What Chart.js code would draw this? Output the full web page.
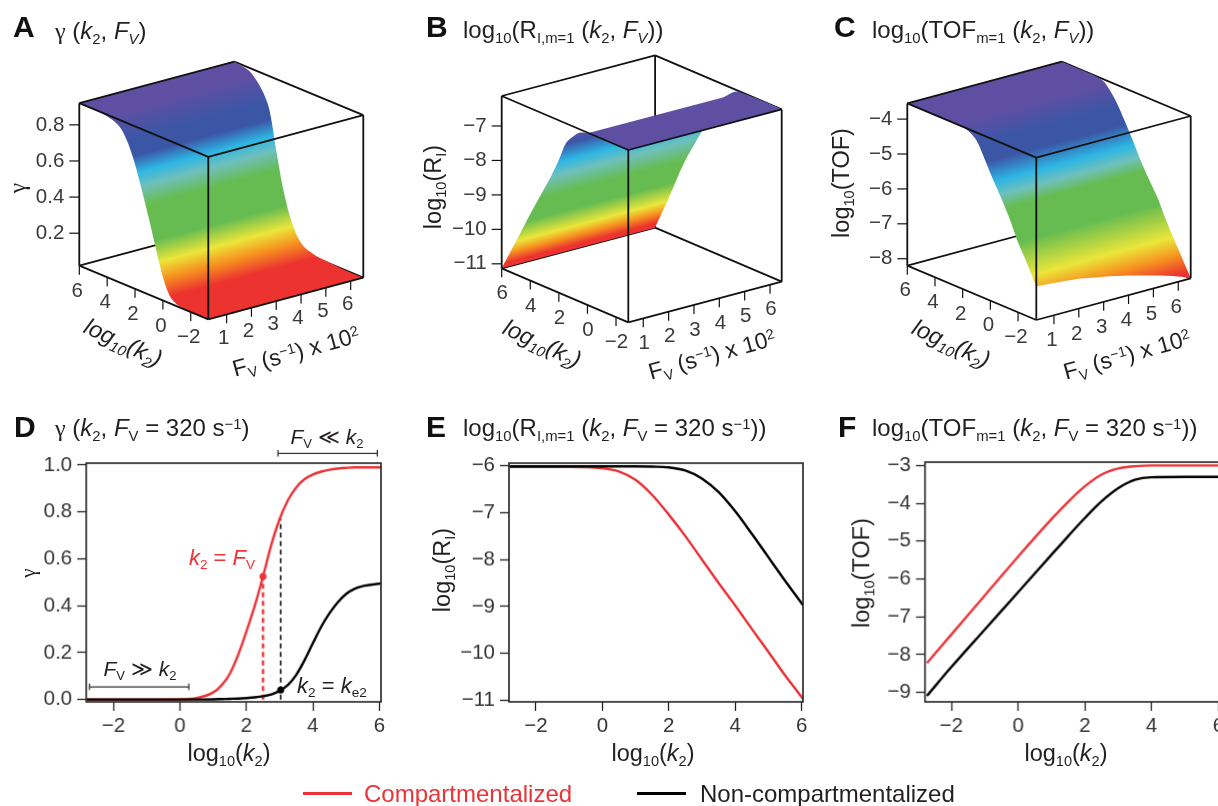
<!DOCTYPE html>
<html>
<head>
<meta charset="utf-8">
<script src="https://cdn.jsdelivr.net/npm/chart.js@4"></script>
<style>
html, body { margin: 0; padding: 0; background: #fff; overflow: hidden; }
#fig { position: relative; width: 1218px; height: 806px; overflow: hidden; font-family: "Liberation Sans", Arial, sans-serif; color: #231f20; filter: blur(0.4px); }
#fig canvas { position: absolute; }
.lbl { position: absolute; white-space: nowrap; line-height: 1; }
.lbl sub, .lbl sup { font-size: .62em; line-height: 0; vertical-align: baseline; position: relative; }
.lbl sub { top: .32em; }
.lbl sup { top: -.48em; }
.lbl .gam { font-family: "Liberation Serif", serif; }
.letter { font-weight: bold; font-size: 30px; color: #111; }
.key { position: absolute; height: 3px; top: 792px; width: 49px; }
</style>
</head>
<body>
<div id="fig"></div>
<script>
var RED = '#ec3237';
var INK = '#111111';

var kD = [-2.8, -2, -1, 0, 0.5, 1, 1.25, 1.5, 1.75, 2, 2.25, 2.5, 2.75, 3, 3.25, 3.5, 3.75, 4, 4.25, 4.5, 4.75, 5, 5.25, 5.5, 6.05];
var gammaRed = [0, 0, 0, 0.001, 0.006, 0.03, 0.06, 0.11, 0.19, 0.29, 0.40, 0.525, 0.66, 0.77, 0.85, 0.905, 0.94, 0.96, 0.972, 0.98, 0.985, 0.988, 0.99, 0.99, 0.99];
var gammaBlack = [0, 0, 0, 0, 0, 0.001, 0.002, 0.003, 0.004, 0.006, 0.009, 0.014, 0.022, 0.037, 0.062, 0.105, 0.168, 0.24, 0.31, 0.368, 0.415, 0.45, 0.472, 0.484, 0.495];

var kE = [-2.8, -1, 0, 0.5, 1, 1.5, 2, 2.5, 3, 3.5, 4, 4.5, 5, 5.5, 6.05];
var riRed = [-6.02, -6.02, -6.05, -6.12, -6.3, -6.62, -7.04, -7.5, -8, -8.5, -8.98, -9.48, -9.97, -10.47, -10.98];
var riBlack = [-6.01, -6.01, -6.01, -6.01, -6.01, -6.015, -6.03, -6.1, -6.27, -6.56, -6.97, -7.45, -7.95, -8.45, -8.98];

var kF = [-2.73, -2, -1, 0, 1, 1.5, 2, 2.5, 3, 3.5, 4, 5, 6.1];
var tofRed = [-8.22, -7.47, -6.44, -5.41, -4.42, -3.96, -3.55, -3.24, -3.08, -3.02, -3, -3, -3];
var tofBlack = [-9.09, -8.33, -7.34, -6.35, -5.36, -4.87, -4.39, -3.95, -3.6, -3.38, -3.31, -3.3, -3.3];

var kTicks2d = [-2, 0, 2, 4, 6];
var gammaTicks = [0, 0.2, 0.4, 0.6, 0.8, 1];
var riTicks = [-11, -10, -9, -8, -7, -6];
var tofTicks = [-9, -8, -7, -6, -5, -4, -3];

// ---- surfaces: z along the two Fv-end rows of the box and along the near k edge
var fvTicks = [1, 2, 3, 4, 5, 6];
var kTicks3d = [-2, 0, 2, 4, 6];

var surfKA = [6, 5, 4.5, 4, 3.5, 3, 2.5, 2, 1.5, 1, 0.5, 0, -0.5, -1, -2, -3.26];
var surfLowA = [0.92, 0.92, 0.918, 0.912, 0.9, 0.875, 0.81, 0.71, 0.58, 0.44, 0.29, 0.15, 0.06, 0.03, 0.022, 0.02];
var surfHighA = [0.92, 0.905, 0.875, 0.825, 0.74, 0.53, 0.33, 0.19, 0.10, 0.055, 0.04, 0.03, 0.028, 0.025, 0.02, 0.02];
var surfFvA = [0.26, 6.51];
var surfNearA = [0.02, 0.02];
var zTicksA = [0.2, 0.4, 0.6, 0.8];

var surfKB = [6, 5, 4, 3, 2.5, 2, 1.5, 1, 0.5, 0, -1, -2.86];
var surfLowB = [-11.13, -10.17, -9.2, -8.27, -7.8, -7.28, -6.7, -6.42, -6.22, -6.15, -6.13, -6.13];
var surfHighB = [-11.13, -10.05, -8.92, -8, -7.55, -7.1, -6.65, -6.42, -6.22, -6.15, -6.13, -6.13];
var surfFvB = [0.41, 6.46];
var surfNearB = [-6.13, -6.13];
var zTicksB = [-11, -10, -9, -8, -7];

var surfKC = [6, 4, 3, 2.5, 2, 1.5, 1, 0.5, 0, -0.5, -1, -1.5, -2, -2.5, -3.32];
var surfLowC = [-3.55, -3.55, -3.55, -3.55, -3.55, -3.62, -3.78, -4.14, -4.55, -4.92, -5.3, -5.72, -6.2, -6.57, -7.24];
var surfHighC = [-3.55, -3.55, -3.6, -3.8, -4.08, -4.45, -4.84, -5.26, -5.65, -6, -6.35, -6.8, -7.2, -7.57, -8.2];
var surfFvC = [0.29, 1, 2, 3, 4, 5, 6, 6.5];
var surfNearC = [-7.24, -7.28, -7.35, -7.48, -7.64, -7.83, -8.05, -8.2];
var zTicksC = [-8, -7, -6, -5, -4];

var PURPLE = '#5f4fa3', BLUE = '#3c56a6', CYAN = '#2db6e4', TEAL = '#6fc0bb', GREEN = '#66bc50', YELLOW = '#ebe63a', ORANGE = '#f6931f', SURF_RED = '#ec3330';

var fig = document.getElementById('fig');

function addCanvas(left, top, w, h) {
    var c = document.createElement('canvas');
    c.width = w;
    c.height = h;
    c.style.left = left + 'px';
    c.style.top = top + 'px';
    c.style.width = w + 'px';
    c.style.height = h + 'px';
    fig.appendChild(c);
    return c;
}

function addLabel(x, y, html, opts) {
    opts = opts || {};
    var d = document.createElement('div');
    d.className = 'lbl ' + (opts.cls || '');
    d.innerHTML = html;
    d.style.left = x + 'px';
    d.style.top = y + 'px';
    if (opts.size) d.style.fontSize = opts.size + 'px';
    if (opts.color) d.style.color = opts.color;
    var tx = opts.left ? '0' : '-50%';
    d.style.transform = 'translate(' + tx + ',-50%) rotate(' + (opts.rot || 0) + 'deg)';
    fig.appendChild(d);
}

function zip(xs, ys) {
    return xs.map(function(x, i) { return { x: x, y: ys[i] }; });
}

function minusText(v) {
    return String(v).replace('-', '\u2212');
}

// ---- 3D box panels
function boxPanel(offsetX, box, surf, stops) {
    var W = 400, H = 395;
    var canvas = addCanvas(offsetX, 0, W, H);
    var kMin = box.k[0], kMax = box.k[1], fMin = box.f[0], fMax = box.f[1], zMin = box.z[0], zMax = box.z[1];
    var kv = [(box.left[0] - box.front[0]) / (kMax - kMin), (box.left[1] - box.front[1]) / (kMax - kMin)];
    var fv = [(box.right[0] - box.front[0]) / (fMax - fMin), (box.right[1] - box.front[1]) / (fMax - fMin)];
    var zv = -box.height / (zMax - zMin);

    function project(k, f, z) {
        return {
            x: box.front[0] + (k - kMin) * kv[0] + (f - fMin) * fv[0],
            y: box.front[1] + (k - kMin) * kv[1] + (f - fMin) * fv[1] + (z - zMin) * zv
        };
    }

    function edge(a, b, order, width) {
        return {
            data: [project(a[0], a[1], a[2]), project(b[0], b[1], b[2])],
            borderColor: INK, borderWidth: width || 1.8, pointRadius: 0, fill: false, order: order
        };
    }

    // colour runs across the Fv direction, so the gradient axis is normal to it
    var len = Math.sqrt(fv[0] * fv[0] + fv[1] * fv[1]);
    var nx = -fv[1] / len, ny = fv[0] / len;
    var span = box.gradBottom - box.gradTop;
    var g = canvas.getContext('2d').createLinearGradient(
        box.front[0], box.gradTop,
        box.front[0] + nx * span * ny, box.gradTop + ny * span * ny);
    stops.forEach(function(s) { g.addColorStop(s[0], s[1]); });

    function sheet(from) {
        var pts = [], i;
        for (i = from; i < surf.k.length; i++) pts.push(project(surf.k[i], fMin, surf.low[i]));
        for (i = 0; i < surf.fv.length; i++) pts.push(project(kMin, surf.fv[i], surf.near[i]));
        for (i = surf.k.length - 1; i >= from; i--) pts.push(project(surf.k[i], fMax, surf.high[i]));
        return pts;
    }

    var ds = [];
    // far edges sit behind the surface
    ds.push(edge([kMax, fMin, zMin], [kMax, fMax, zMin], 5));
    ds.push(edge([kMax, fMax, zMin], [kMin, fMax, zMin], 5));
    ds.push(edge([kMax, fMax, zMin], [kMax, fMax, zMax], 5));
    ds.push(edge([kMax, fMax, zMax], [kMin, fMax, zMax], 5));
    ds.push({ data: sheet(0), borderWidth: 0, backgroundColor: g, fill: 'shape', pointRadius: 0, tension: 0.3, order: 4 });
    if (surf.bandFrom) {
        ds.push({ data: sheet(surf.bandFrom), borderWidth: 0, backgroundColor: PURPLE, fill: 'shape', pointRadius: 0, order: 3 });
    }
    // near edges
    ds.push(edge([kMax, fMin, zMax], [kMax, fMax, zMax], 1));
    ds.push(edge([kMax, fMin, zMax], [kMin, fMin, zMax], 1));
    ds.push(edge([kMin, fMin, zMax], [kMin, fMax, zMax], 1));
    ds.push(edge([kMin, fMax, zMax], [kMin, fMax, zMin], 1));
    ds.push(edge([kMax, fMin, zMax], [kMax, fMin, zMin], 1));
    ds.push(edge([kMin, fMin, zMax], [kMin, fMin, zMin], 1));
    ds.push(edge([kMax, fMin, zMin], [kMin, fMin, zMin], 1));
    ds.push(edge([kMin, fMin, zMin], [kMin, fMax, zMin], 1));

    var texts = [];
    surf.zTicks.forEach(function(v) {
        var p = project(kMax, fMin, v);
        ds.push({ data: [p, { x: p.x - 10, y: p.y }], borderColor: INK, borderWidth: 1.2, pointRadius: 0, order: 1 });
        texts.push({ t: minusText(v.toFixed(box.zDigits)), x: p.x - 15, y: p.y, align: 'right' });
    });
    kTicks3d.forEach(function(v) {
        var p = project(v, fMin, zMin);
        ds.push({ data: [p, { x: p.x, y: p.y + 9 }], borderColor: INK, borderWidth: 1.2, pointRadius: 0, order: 1 });
        texts.push({ t: minusText(v), x: p.x + box.kLabel[0], y: p.y + box.kLabel[1], align: 'center' });
    });
    fvTicks.forEach(function(v) {
        var p = project(kMin, v, zMin);
        ds.push({ data: [p, { x: p.x, y: p.y + 9 }], borderColor: INK, borderWidth: 1.2, pointRadius: 0, order: 1 });
        texts.push({ t: String(v), x: p.x + box.fLabel[0], y: p.y + box.fLabel[1], align: 'center' });
    });

    new Chart(canvas, {
        type: 'line',
        data: { datasets: ds },
        plugins: [{
            id: 'boxTicks',
            afterDraw: function(chart) {
                var ctx = chart.ctx;
                ctx.save();
                ctx.fillStyle = '#3a3a3c';
                ctx.font = '20.5px "Liberation Sans"';
                ctx.textBaseline = 'middle';
                texts.forEach(function(t) {
                    ctx.textAlign = t.align;
                    ctx.fillText(t.t, t.x, t.y);
                });
                ctx.restore();
            }
        }],
        options: {
            responsive: false,
            animation: false,
            parsing: false,
            layout: { padding: 0 },
            plugins: { legend: { display: false }, tooltip: { enabled: false } },
            scales: {
                x: { type: 'linear', display: false, min: 0, max: W },
                y: { type: 'linear', display: false, min: 0, max: H, reverse: true }
            }
        }
    });
}

// ---- 2D line panels
function linePanel(area, xRange, yRange, yTicks, yDigits, datasets) {
    var padTop = 20, padRight = 20;
    var left = area.offsetX;
    var top = area.top - padTop;
    var w = area.right - left + padRight;
    var bottomRoom = 50;
    var h = area.bottom - top + bottomRoom;
    var canvas = addCanvas(left, top, w, h);

    var frame = {
        id: 'frame',
        afterDatasetsDraw: function(chart) {
            var a = chart.chartArea, ctx = chart.ctx;
            ctx.save();
            ctx.strokeStyle = '#222';
            ctx.lineWidth = 1.6;
            ctx.strokeRect(a.left, a.top, a.right - a.left, a.bottom - a.top);
            ctx.restore();
        }
    };

    new Chart(canvas, {
        type: 'line',
        data: { datasets: datasets },
        plugins: [frame],
        options: {
            responsive: false,
            animation: false,
            layout: { padding: { top: padTop, right: padRight } },
            plugins: { legend: { display: false }, tooltip: { enabled: false } },
            elements: { point: { radius: 0 } },
            scales: {
                x: {
                    type: 'linear', min: xRange[0], max: xRange[1],
                    afterBuildTicks: function(s) { s.ticks = kTicks2d.map(function(v) { return { value: v }; }); },
                    afterFit: function(s) { s.height = bottomRoom; },
                    border: { display: false },
                    grid: { drawOnChartArea: false, tickLength: 9, tickColor: '#222', tickWidth: 1.3 },
                    ticks: {
                        autoSkip: false, maxRotation: 0, padding: 3, color: '#333',
                        font: { family: 'Liberation Sans', size: 20.5 },
                        callback: function(v) { return minusText(v); }
                    }
                },
                y: {
                    type: 'linear', min: yRange[0], max: yRange[1],
                    afterBuildTicks: function(s) { s.ticks = yTicks.map(function(v) { return { value: v }; }); },
                    afterFit: function(s) { s.width = area.left - left; },
                    border: { display: false },
                    grid: { drawOnChartArea: false, tickLength: 9, tickColor: '#222', tickWidth: 1.3 },
                    ticks: {
                        autoSkip: false, padding: 5, color: '#333',
                        font: { family: 'Liberation Sans', size: 20.5 },
                        callback: function(v) { return minusText(v.toFixed(yDigits)); }
                    }
                }
            }
        }
    });
}

function curve(xs, ys, color, order) {
    return {
        data: zip(xs, ys), borderColor: color, borderWidth: 2.4, pointRadius: 0, fill: false,
        cubicInterpolationMode: 'monotone', order: order
    };
}

function guide(x, yTop, color, width) {
    return {
        data: [{ x: x, y: 0 }, { x: x, y: yTop }], borderColor: color, borderWidth: width,
        borderDash: [5, 3.5], pointRadius: 0, fill: false, order: 3
    };
}

function bracket(x0, x1, y, cap) {
    return {
        data: [{ x: x0, y: y - cap }, { x: x0, y: y + cap }, { x: x0, y: y }, { x: x1, y: y }, { x: x1, y: y + cap }, { x: x1, y: y - cap }],
        borderColor: '#333', borderWidth: 1.3, pointRadius: 0, fill: false, clip: false, order: 0
    };
}

function marker(x, y, color) {
    return { data: [{ x: x, y: y }], pointRadius: 3.5, pointBackgroundColor: color, pointBorderWidth: 0, borderWidth: 0, showLine: false, order: 0 };
}

// ---- build the figure
var stopsA = [[0, PURPLE], [0.08, PURPLE], [0.2, BLUE], [0.27, BLUE], [0.34, CYAN], [0.4, TEAL], [0.48, GREEN], [0.63, GREEN], [0.72, YELLOW], [0.79, ORANGE], [0.87, SURF_RED], [1, SURF_RED]];
var stopsB = [[0, PURPLE], [0.09, BLUE], [0.23, CYAN], [0.34, TEAL], [0.5, GREEN], [0.66, GREEN], [0.81, YELLOW], [0.89, ORANGE], [0.97, SURF_RED], [1, SURF_RED]];
var stopsC = [[0, PURPLE], [0.13, PURPLE], [0.24, BLUE], [0.32, BLUE], [0.41, CYAN], [0.47, TEAL], [0.53, GREEN], [0.68, GREEN], [0.83, YELLOW], [0.91, ORANGE], [0.99, SURF_RED], [1, SURF_RED]];

boxPanel(0, {
    front: [208.3, 319.3], left: [79.3, 265.7], right: [363.3, 277.7], height: 162.5,
    k: [-3.26, 6], f: [0.26, 6.51], z: [0.02, 0.92], zDigits: 1,
    gradTop: 68, gradBottom: 319,
    kLabel: [-2, 25.5], fLabel: [-3, 23.5]
}, { k: surfKA, low: surfLowA, high: surfHighA, fv: surfFvA, near: surfNearA, zTicks: zTicksA }, stopsA);

boxPanel(410, {
    front: [218.3, 322.3], left: [91.7, 268.3], right: [371.7, 281.7], height: 172.3,
    k: [-2.86, 6], f: [0.41, 6.46], z: [-11.13, -6.13], zDigits: 0,
    gradTop: 116.7, gradBottom: 234,
    kLabel: [0.5, 25.5], fLabel: [1, 25]
}, { k: surfKB, low: surfLowB, high: surfHighB, fv: surfFvB, near: surfNearB, zTicks: zTicksB, bandFrom: 9 }, stopsB);

boxPanel(818, {
    front: [218.3, 320], left: [89.3, 265.7], right: [372.7, 278.3], height: 162.3,
    k: [-3.32, 6], f: [0.29, 6.5], z: [-8.2, -3.55], zDigits: 0,
    gradTop: 69.3, gradBottom: 316,
    kLabel: [-2, 25], fLabel: [-2, 25.5]
}, { k: surfKC, low: surfLowC, high: surfHighC, fv: surfFvC, near: surfNearC, zTicks: zTicksC }, stopsC);

linePanel({ offsetX: 0, left: 86, right: 380.7, top: 463, bottom: 701.7 }, [-2.82, 6.05], [-0.01, 1.0085], gammaTicks, 1, [
    curve(kD, gammaRed, RED, 2),
    curve(kD, gammaBlack, '#000', 1),
    guide(2.5, 0.52, RED, 2.4),
    guide(3.03, 0.77, '#111', 1.6),
    marker(2.5, 0.525, RED),
    marker(3.03, 0.04, '#000'),
    bracket(-2.72, 0.27, 0.054, 0.014),
    bracket(2.95, 5.94, 1.05, 0.014)
]);

linePanel({ offsetX: 410, left: 509, right: 803.3, top: 463, bottom: 701.7 }, [-2.81, 6.04], [-11.036, -5.94], riTicks, 0, [
    curve(kE, riRed, RED, 2),
    curve(kE, riBlack, '#000', 1)
]);

linePanel({ offsetX: 818, left: 924.7, right: 1219.5, top: 462.3, bottom: 701.7 }, [-2.79, 6.05], [-9.25, -2.91], tofTicks, 0, [
    curve(kF, tofRed, RED, 1),
    curve(kF, tofBlack, '#000', 2)
]);

// ---- text with sub/superscripts
var GAMMA = '<span class="gam">\u03b3</span>';
var K2 = '<i>k</i><sub>2</sub>';
var FVi = '<i>F<sub>V</sub></i>';
var FVu = '<i>F</i><sub>V</sub>';
var S1 = 's<sup>\u22121</sup>';
var LOGK = 'log<sub>10</sub>(<i>k</i><sub>2</sub>)';

[['A', 13, 27], ['B', 426, 27], ['C', 834, 27], ['D', 14, 427], ['E', 426, 427], ['F', 838, 427]].forEach(function(l) {
    addLabel(l[1], l[2], l[0], { left: true, cls: 'letter' });
});

var TS = 24;
addLabel(55, 31, GAMMA + ' (' + K2 + ', ' + FVi + ')', { left: true, size: TS });
addLabel(463, 30, 'log<sub>10</sub>(R<sub>I,m=1</sub> (' + K2 + ', ' + FVi + '))', { left: true, size: TS });
addLabel(872, 30, 'log<sub>10</sub>(TOF<sub>m=1</sub> (' + K2 + ', ' + FVi + '))', { left: true, size: TS });
addLabel(55, 428, GAMMA + ' (' + K2 + ', ' + FVu + ' = 320 ' + S1 + ')', { left: true, size: TS });
addLabel(463, 428, 'log<sub>10</sub>(R<sub>I,m=1</sub> (' + K2 + ', ' + FVu + ' = 320 ' + S1 + '))', { left: true, size: TS });
addLabel(872, 428, 'log<sub>10</sub>(TOF<sub>m=1</sub> (' + K2 + ', ' + FVu + ' = 320 ' + S1 + '))', { left: true, size: TS });

var AS = 23.5;
var LOGK_IT = '<i>log<sub>10</sub>(k<sub>2</sub>)</i>';
var FVAX = FVu.replace('<i>F</i>', 'F') + ' (' + S1 + ') x 10<sup>2</sup>';
addLabel(123, 343, LOGK_IT, { size: AS, rot: 25 });
addLabel(296, 352, FVAX, { size: 23, rot: -15.5 });
addLabel(542, 344, LOGK_IT, { size: AS, rot: 25 });
addLabel(712, 355, FVAX, { size: 23, rot: -15.5 });
addLabel(951, 344, LOGK_IT, { size: AS, rot: 25 });
addLabel(1127, 355, FVAX, { size: 23, rot: -15.5 });

addLabel(18, 188, GAMMA, { size: AS, rot: -90 });
addLabel(434, 187, 'log<sub>10</sub>(R<sub>I</sub>)', { size: AS, rot: -90 });
addLabel(842, 183, 'log<sub>10</sub>(TOF)', { size: AS, rot: -90 });

addLabel(28, 573, GAMMA, { size: 21, rot: -90 });
addLabel(443, 570, 'log<sub>10</sub>(R<sub>I</sub>)', { size: AS, rot: -90 });
addLabel(862, 573, 'log<sub>10</sub>(TOF)', { size: AS, rot: -90 });
addLabel(229, 754, LOGK, { size: AS });
addLabel(653, 754, LOGK, { size: AS });
addLabel(1066, 754, LOGK, { size: AS });

addLabel(222, 558, K2 + ' = ' + FVu, { size: 22, color: RED });
addLabel(332, 686, K2 + ' = <i>k</i><sub>e2</sub>', { size: 22 });
addLabel(327, 436, FVu + ' \u226a ' + K2, { size: 21 });
addLabel(140, 668, FVu + ' \u226b ' + K2, { size: 21 });

// ---- legend
var keyRed = document.createElement('div');
keyRed.className = 'key';
keyRed.style.left = '303px';
keyRed.style.background = RED;
fig.appendChild(keyRed);
var keyBlack = document.createElement('div');
keyBlack.className = 'key';
keyBlack.style.left = '637px';
keyBlack.style.background = '#000';
fig.appendChild(keyBlack);
addLabel(364, 794, 'Compartmentalized', { left: true, size: 24, color: RED });
addLabel(700, 794, 'Non-compartmentalized', { left: true, size: 24 });
</script>
</body>
</html>
